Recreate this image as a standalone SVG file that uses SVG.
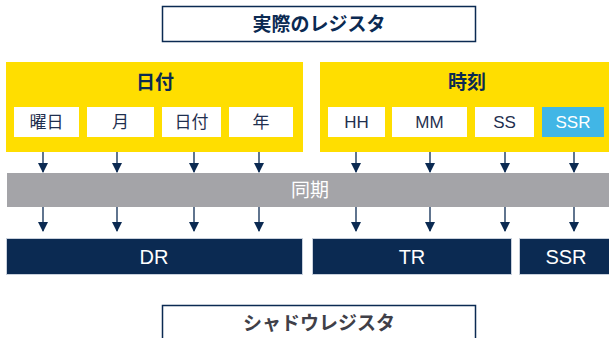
<svg xmlns="http://www.w3.org/2000/svg" width="609" height="338" viewBox="0 0 609 338">
<defs>
<marker id="ah" viewBox="0 0 10 10" refX="9" refY="5" markerWidth="10" markerHeight="10" markerUnits="userSpaceOnUse" orient="auto">
<path d="M0,0 L10,5 L0,10 z" fill="#0b2a52"/>
</marker>
<style>
.lbl{font-family:"Liberation Sans","Noto Sans CJK JP",sans-serif;}
.title{font-size:19px;font-weight:bold;text-anchor:middle;}
.grp{font-size:19px;font-weight:bold;fill:#0b2a52;text-anchor:middle;}
.cell{fill:#ffffff;}
.ct{font-size:17px;fill:#1f2f4f;text-anchor:middle;}
.yel{fill:#ffde00;}
.reg{fill:#0b2a52;stroke:#c8d0dc;stroke-width:1;}
.rt{font-size:20px;fill:#ffffff;text-anchor:middle;}
.conn line{stroke:#0b2a52;stroke-width:1.3;marker-end:url(#ah);}
</style>
</defs>
<g id="real-registers">
<rect x="162.5" y="6.5" width="313" height="35" fill="#ffffff" stroke="#0b2a52" stroke-width="1.5"/>
<text class="lbl title" x="319" y="31" fill="#0b2a52">実際のレジスタ</text>
</g>
<g id="date">
<rect class="yel" x="6" y="62" width="297" height="90"/>
<text class="lbl grp" x="155" y="89">日付</text>
</g>
<g id="date-dow"><rect class="cell" x="14" y="107" width="65" height="30"/><text class="lbl ct" x="46.5" y="128">曜日</text></g>
<g id="date-month"><rect class="cell" x="87" y="107" width="67" height="30"/><text class="lbl ct" x="120.5" y="128">月</text></g>
<g id="date-day"><rect class="cell" x="162" y="107" width="59" height="30"/><text class="lbl ct" x="191.5" y="128">日付</text></g>
<g id="date-year"><rect class="cell" x="229" y="107" width="64" height="30"/><text class="lbl ct" x="261" y="128">年</text></g>
<g id="time">
<rect class="yel" x="320" y="62" width="289" height="90"/>
<text class="lbl grp" x="467" y="89">時刻</text>
</g>
<g id="time-hh"><rect class="cell" x="328" y="107" width="57" height="30"/><text class="lbl ct" x="356.5" y="128">HH</text></g>
<g id="time-mm"><rect class="cell" x="392" y="107" width="75" height="30"/><text class="lbl ct" x="429.5" y="128">MM</text></g>
<g id="time-ss"><rect class="cell" x="475" y="107" width="59" height="30"/><text class="lbl ct" x="504.5" y="128">SS</text></g>
<g id="time-ssr"><rect x="542" y="107" width="62" height="30" fill="#41b6e6"/><text class="lbl ct" x="573" y="128" style="fill:#ffffff">SSR</text></g>
<g id="sync">
<rect x="7" y="173" width="602" height="34" fill="#a4a4a8"/>
<text class="lbl" x="310" y="197" font-size="19" fill="#ffffff" text-anchor="middle">同期</text>
</g>
<g id="dr"><rect class="reg" x="6.5" y="238.5" width="296" height="36"/><text class="lbl rt" x="154" y="264">DR</text></g>
<g id="tr"><rect class="reg" x="312.5" y="238.5" width="199" height="36"/><text class="lbl rt" x="412" y="264">TR</text></g>
<g id="ssr"><rect class="reg" x="519.5" y="238.5" width="95" height="36"/><text class="lbl rt" x="566" y="264">SSR</text></g>
<g id="shadow-registers">
<rect x="162.5" y="305.5" width="313" height="40" fill="#ffffff" stroke="#0b2a52" stroke-width="1.5"/>
<text class="lbl title" x="319" y="330" fill="#404048">シャドウレジスタ</text>
</g>
<g class="conn">
<line x1="43" y1="152" x2="43" y2="172"/>
<line x1="117" y1="152" x2="117" y2="172"/>
<line x1="194" y1="152" x2="194" y2="172"/>
<line x1="259" y1="152" x2="259" y2="172"/>
<line x1="356" y1="152" x2="356" y2="172"/>
<line x1="430" y1="152" x2="430" y2="172"/>
<line x1="505" y1="152" x2="505" y2="172"/>
<line x1="574" y1="152" x2="574" y2="172"/>
<line x1="43" y1="207" x2="43" y2="231"/>
<line x1="117" y1="207" x2="117" y2="231"/>
<line x1="194" y1="207" x2="194" y2="231"/>
<line x1="259" y1="207" x2="259" y2="231"/>
<line x1="356" y1="207" x2="356" y2="231"/>
<line x1="430" y1="207" x2="430" y2="231"/>
<line x1="505" y1="207" x2="505" y2="231"/>
<line x1="574" y1="207" x2="574" y2="231"/>
</g>
</svg>
